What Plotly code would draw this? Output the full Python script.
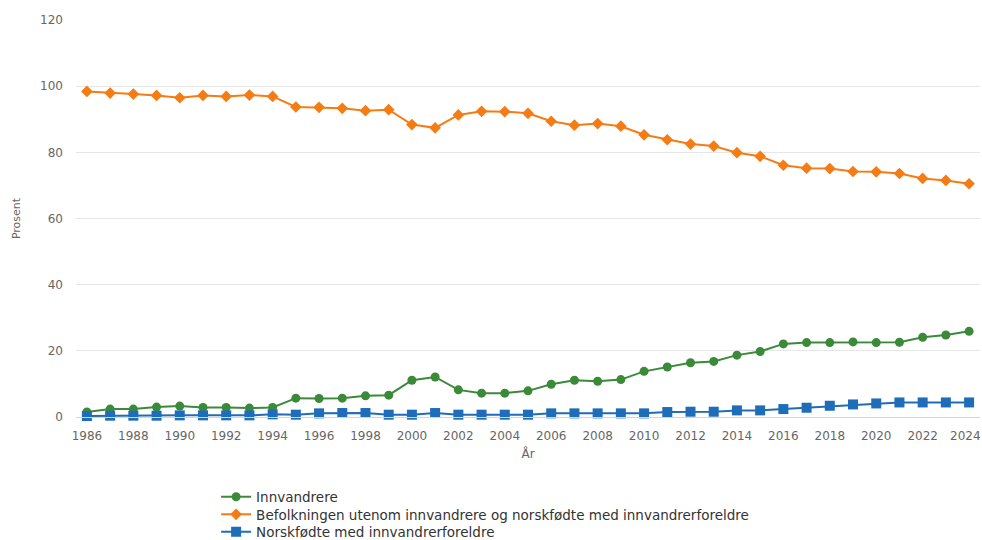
import plotly.graph_objects as go

years = list(range(1986, 2025))

innvandrere = [1.5, 2.4, 2.4, 3.0, 3.3, 2.9, 2.9, 2.7, 2.9, 5.7,
               5.6, 5.7, 6.4, 6.6, 11.1, 12.1, 8.2, 7.2, 7.2, 7.9,
               9.9, 11.1, 10.8, 11.3, 13.8, 15.1, 16.4, 16.8, 18.7, 19.8,
               22.1, 22.5, 22.5, 22.7, 22.5, 22.6, 24.1, 24.8, 25.9]

befolkning = [98.4, 97.9, 97.6, 97.2, 96.5, 97.2, 96.9, 97.3, 96.9, 93.7,
              93.6, 93.3, 92.6, 92.9, 88.4, 87.4, 91.3, 92.4, 92.3, 91.8,
              89.4, 88.2, 88.7, 87.9, 85.3, 83.8, 82.5, 81.9, 79.9, 78.8,
              76.1, 75.2, 75.1, 74.2, 74.1, 73.6, 72.1, 71.5, 70.5]

norskfodte = [0.3, 0.4, 0.4, 0.4, 0.5, 0.5, 0.5, 0.5, 0.8, 0.7,
              1.1, 1.2, 1.2, 0.7, 0.7, 1.2, 0.7, 0.7, 0.7, 0.7,
              1.1, 1.1, 1.1, 1.1, 1.1, 1.5, 1.6, 1.6, 2.0, 2.0,
              2.4, 2.8, 3.4, 3.8, 4.1, 4.4, 4.4, 4.4, 4.4]

names = ["Innvandrere",
         "Befolkningen utenom innvandrere og norskfødte med innvandrerforeldre",
         "Norskfødte med innvandrerforeldre"]
colors = ["#3b8a3a", "#f57c14", "#1f6cb8"]
symbols = ["circle", "diamond", "square"]
sizes = [9, 9, 10]

x_ticks = list(range(1986, 2025, 2))
y_ticks = [0, 20, 40, 60, 80, 100, 120]

legend_ids = ["legend", "legend2", "legend3"]
legend_y = [1 - 497 / 540, 1 - 514.5 / 540, 1 - 532 / 540]

fig = go.Figure()
for vals, name, col, sym, sz, lid in zip([innvandrere, befolkning, norskfodte],
                                         names, colors, symbols, sizes, legend_ids):
    fig.add_trace(go.Scatter(
        x=years, y=vals, name=name, mode="lines+markers",
        line=dict(color=col, width=2),
        marker=dict(color=col, symbol=sym, size=sz),
        cliponaxis=False, legend=lid,
    ))

font = "DejaVu Sans, sans-serif"
legend_common = dict(
    x=0.155, xref="paper", yref="container",
    xanchor="left", yanchor="middle",
    orientation="v", tracegroupgap=0,
    font=dict(family=font, size=13.5, color="#333333"),
    itemwidth=30, bgcolor="rgba(0,0,0,0)",
)

last_tick = x_ticks[-1]
tick_text = [str(t) if t != last_tick else "" for t in x_ticks]

fig.update_layout(
    width=982, height=540,
    margin=dict(l=76, r=2, t=20, b=123),
    paper_bgcolor="white", plot_bgcolor="white",
    font=dict(family=font, color="#666666", size=12),
    showlegend=True,
    legend=dict(y=legend_y[0], **legend_common),
    legend2=dict(y=legend_y[1], **legend_common),
    legend3=dict(y=legend_y[2], **legend_common),
    xaxis=dict(
        range=[1985.53, 2024.47], automargin=False,
        tickmode="array", tickvals=x_ticks, ticktext=tick_text,
        showgrid=False, zeroline=False,
        showline=True, linecolor="#ccd6eb", linewidth=1,
        ticks="", ticklabelstandoff=8, tickfont=dict(size=12, color="#666666"),
        title=dict(text="År", font=dict(size=12, color="#666666"), standoff=7),
    ),
    yaxis=dict(
        range=[0, 120], automargin=False,
        tickmode="array", tickvals=y_ticks, ticktext=[str(t) for t in y_ticks],
        showgrid=True, gridcolor="#e6e6e6", gridwidth=1,
        zeroline=False, showline=False,
        ticks="", ticklabelstandoff=12, tickfont=dict(size=12, color="#666666"),
        title=dict(text="Prosent", font=dict(size=11, color="#666666"), standoff=17),
    ),
    annotations=[dict(
        text=str(last_tick), x=last_tick, xref="x", y=0, yref="paper",
        xanchor="center", yanchor="middle", xshift=-4, yshift=-19,
        showarrow=False, font=dict(family=font, size=12, color="#666666"),
    )],
)

fig.write_html("out.html", config={"displayModeBar": False},
               post_script="document.body.style.margin='0';")
